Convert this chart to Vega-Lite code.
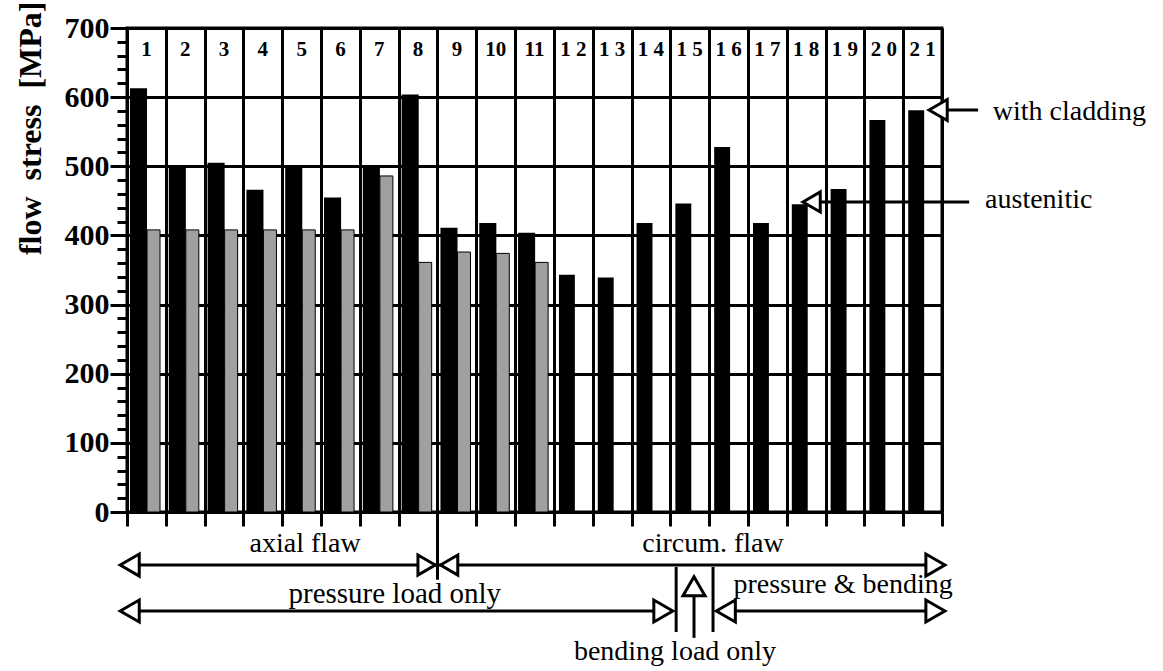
{
  "$schema": "https://vega.github.io/schema/vega-lite/v6.json",
  "width": 815,
  "height": 484,
  "autosize": {"type": "none"},
  "padding": {"left": 127, "top": 28, "right": 221, "bottom": 159},
  "background": "white",
  "config": {"view": {"stroke": "black", "strokeWidth": 3}, "font": "Liberation Serif"},
  "data": {"values": [
    {"col": 1, "label": "1", "type": "with cladding", "stress": 613},
    {"col": 2, "label": "2", "type": "with cladding", "stress": 500},
    {"col": 3, "label": "3", "type": "with cladding", "stress": 505},
    {"col": 4, "label": "4", "type": "with cladding", "stress": 466},
    {"col": 5, "label": "5", "type": "with cladding", "stress": 500},
    {"col": 6, "label": "6", "type": "with cladding", "stress": 455},
    {"col": 7, "label": "7", "type": "with cladding", "stress": 500},
    {"col": 8, "label": "8", "type": "with cladding", "stress": 604},
    {"col": 9, "label": "9", "type": "with cladding", "stress": 411},
    {"col": 10, "label": "10", "type": "with cladding", "stress": 418},
    {"col": 11, "label": "11", "type": "with cladding", "stress": 404},
    {"col": 12, "label": "1 2", "type": "with cladding", "stress": 343},
    {"col": 13, "label": "1 3", "type": "with cladding", "stress": 339},
    {"col": 14, "label": "1 4", "type": "with cladding", "stress": 418},
    {"col": 15, "label": "1 5", "type": "with cladding", "stress": 446},
    {"col": 16, "label": "1 6", "type": "with cladding", "stress": 528},
    {"col": 17, "label": "1 7", "type": "with cladding", "stress": 418},
    {"col": 18, "label": "1 8", "type": "with cladding", "stress": 445},
    {"col": 19, "label": "1 9", "type": "with cladding", "stress": 467},
    {"col": 20, "label": "2 0", "type": "with cladding", "stress": 567},
    {"col": 21, "label": "2 1", "type": "with cladding", "stress": 581},
    {"col": 1, "label": "1", "type": "austenitic", "stress": 408},
    {"col": 2, "label": "2", "type": "austenitic", "stress": 408},
    {"col": 3, "label": "3", "type": "austenitic", "stress": 408},
    {"col": 4, "label": "4", "type": "austenitic", "stress": 408},
    {"col": 5, "label": "5", "type": "austenitic", "stress": 408},
    {"col": 6, "label": "6", "type": "austenitic", "stress": 408},
    {"col": 7, "label": "7", "type": "austenitic", "stress": 486},
    {"col": 8, "label": "8", "type": "austenitic", "stress": 361},
    {"col": 9, "label": "9", "type": "austenitic", "stress": 376},
    {"col": 10, "label": "10", "type": "austenitic", "stress": 374},
    {"col": 11, "label": "11", "type": "austenitic", "stress": 361}
  ]},
  "resolve": {"scale": {"x": "independent"}, "axis": {"x": "independent", "y": "independent"}},
  "layer": [
    {
      "encoding": {
        "x": {"field": "col", "type": "ordinal", "scale": {"paddingInner": 0, "paddingOuter": 0}, "axis": null},
        "y": {
          "field": "stress", "type": "quantitative",
          "scale": {"domain": [0, 700], "nice": false},
          "axis": {
            "values": [0,20,40,60,80,100,120,140,160,180,200,220,240,260,280,300,320,340,360,380,400,420,440,460,480,500,520,540,560,580,600,620,640,660,680,700],
            "tickCount": 50,
            "labelExpr": "datum.value % 100 === 0 ? datum.label : ''",
            "tickSize": {"condition": {"test": "datum.value % 100 === 0", "value": 17}, "value": 10},
            "tickWidth": 3,
            "tickColor": "black",
            "grid": true,
            "gridColor": "black",
            "gridWidth": 3,
            "gridOpacity": {"condition": {"test": "datum.value % 100 === 0", "value": 1}, "value": 0},
            "domain": false,
            "labelFont": "Liberation Serif",
            "labelFontWeight": "bold",
            "labelFontSize": 30,
            "labelColor": "black",
            "labelPadding": 1,
            "title": "flow\u00a0 stress\u00a0 [MPa]",
            "titleFont": "Liberation Serif",
            "titleFontWeight": "bold",
            "titleFontSize": 32,
            "titleColor": "black",
            "titleAngle": -90,
            "titleX": -97,
            "titleY": -27,
            "titleAlign": "right",
            "titleBaseline": "middle"
          }
        }
      },
      "layer": [
        {"transform": [{"filter": "datum.type == 'with cladding' && datum.col <= 11"}],
         "mark": {"type": "bar", "color": "black", "width": {"band": 0.44}, "xOffset": -7.9}},
        {"transform": [{"filter": "datum.type == 'with cladding' && datum.col > 11"}],
         "mark": {"type": "bar", "color": "black", "width": {"band": 0.41}, "xOffset": -6.4}},
        {"transform": [{"filter": "datum.type == 'austenitic'"}],
         "mark": {"type": "bar", "fill": "#a0a0a0", "stroke": "black", "strokeWidth": 1, "width": {"band": 0.335}, "xOffset": 7.1}}
      ]
    },
    {
      "layer": [
        {
          "transform": [{"filter": "datum.type == 'with cladding'"}],
          "mark": {"type": "text", "font": "Liberation Serif", "fontWeight": "bold", "fontSize": 21, "dx": -19.4, "baseline": "middle", "align": "center", "color": "black"},
          "encoding": {
            "x": {"field": "col", "type": "quantitative", "scale": {"domain": [0, 21], "nice": false, "zero": false},
                  "axis": {"values": [0,1,2,3,4,5,6,7,8,9,10,11,12,13,14,15,16,17,18,19,20,21], "tickCount": 50, "labels": false, "grid": true, "gridColor": "black", "gridWidth": 3, "tickSize": 14, "tickWidth": 3, "tickColor": "black", "domain": false, "title": null}},
            "y": {"datum": 668, "type": "quantitative", "scale": {"domain": [0, 700], "nice": false}, "axis": null},
            "text": {"field": "label"}
          }
        },
        {"data": {"values": [{}]}, "mark": {"type": "rule", "color": "black", "strokeWidth": 3},
         "encoding": {"x": {"datum": 0.07, "type": "quantitative", "scale": {"domain": [0, 21]}}, "x2": {"datum": 20.83}, "y": {"datum": -76.7, "type": "quantitative", "scale": {"domain": [0, 700]}}}},
        {"data": {"values": [{}]}, "mark": {"type": "rule", "color": "black", "strokeWidth": 3},
         "encoding": {"x": {"datum": 0.07, "type": "quantitative", "scale": {"domain": [0, 21]}}, "x2": {"datum": 13.82}, "y": {"datum": -143.2, "type": "quantitative", "scale": {"domain": [0, 700]}}}},
        {"data": {"values": [{}]}, "mark": {"type": "rule", "color": "black", "strokeWidth": 3},
         "encoding": {"x": {"datum": 15.43, "type": "quantitative", "scale": {"domain": [0, 21]}}, "x2": {"datum": 20.83}, "y": {"datum": -143.2, "type": "quantitative", "scale": {"domain": [0, 700]}}}},
        {"data": {"values": [{}]}, "mark": {"type": "rule", "color": "black", "strokeWidth": 3},
         "encoding": {"x": {"datum": 8, "type": "quantitative", "scale": {"domain": [0, 21]}}, "y": {"datum": 0, "type": "quantitative", "scale": {"domain": [0, 700]}}, "y2": {"datum": -98}}},
        {"data": {"values": [{}]}, "mark": {"type": "rule", "color": "black", "strokeWidth": 3},
         "encoding": {"x": {"datum": 14.15, "type": "quantitative", "scale": {"domain": [0, 21]}}, "y": {"datum": -79.5, "type": "quantitative", "scale": {"domain": [0, 700]}}, "y2": {"datum": -173.6}}},
        {"data": {"values": [{}]}, "mark": {"type": "rule", "color": "black", "strokeWidth": 3},
         "encoding": {"x": {"datum": 15.1, "type": "quantitative", "scale": {"domain": [0, 21]}}, "y": {"datum": -79.5, "type": "quantitative", "scale": {"domain": [0, 700]}}, "y2": {"datum": -173.6}}},
        {"data": {"values": [{}]}, "mark": {"type": "rule", "color": "black", "strokeWidth": 3},
         "encoding": {"x": {"datum": 14.61, "type": "quantitative", "scale": {"domain": [0, 21]}}, "y": {"datum": -110, "type": "quantitative", "scale": {"domain": [0, 700]}}, "y2": {"datum": -182}}},
        {"data": {"values": [{}]}, "mark": {"type": "rule", "color": "black", "strokeWidth": 3},
         "encoding": {"x": {"datum": 20.94, "type": "quantitative", "scale": {"domain": [0, 21]}}, "x2": {"datum": 21.93}, "y": {"datum": 581.4, "type": "quantitative", "scale": {"domain": [0, 700]}}}},
        {"data": {"values": [{}]}, "mark": {"type": "rule", "color": "black", "strokeWidth": 3},
         "encoding": {"x": {"datum": 17.64, "type": "quantitative", "scale": {"domain": [0, 21]}}, "x2": {"datum": 21.7}, "y": {"datum": 448.4, "type": "quantitative", "scale": {"domain": [0, 700]}}}},
        {"data": {"values": [{}]}, "mark": {"type": "point", "shape": "triangle-left", "size": 484, "filled": true, "fill": "white", "stroke": "black", "strokeWidth": 3, "opacity": 1},
         "encoding": {"x": {"datum": 0.07, "type": "quantitative", "scale": {"domain": [0, 21]}}, "y": {"datum": -76.7, "type": "quantitative", "scale": {"domain": [0, 700]}}}},
        {"data": {"values": [{}]}, "mark": {"type": "point", "shape": "triangle-left", "size": 484, "filled": true, "fill": "white", "stroke": "black", "strokeWidth": 3, "opacity": 1},
         "encoding": {"x": {"datum": 0.07, "type": "quantitative", "scale": {"domain": [0, 21]}}, "y": {"datum": -143.2, "type": "quantitative", "scale": {"domain": [0, 700]}}}},
        {"data": {"values": [{}]}, "mark": {"type": "point", "shape": "triangle-right", "size": 400, "filled": true, "fill": "white", "stroke": "black", "strokeWidth": 3, "opacity": 1},
         "encoding": {"x": {"datum": 7.72, "type": "quantitative", "scale": {"domain": [0, 21]}}, "y": {"datum": -76.7, "type": "quantitative", "scale": {"domain": [0, 700]}}}},
        {"data": {"values": [{}]}, "mark": {"type": "point", "shape": "triangle-left", "size": 400, "filled": true, "fill": "white", "stroke": "black", "strokeWidth": 3, "opacity": 1},
         "encoding": {"x": {"datum": 8.3, "type": "quantitative", "scale": {"domain": [0, 21]}}, "y": {"datum": -76.7, "type": "quantitative", "scale": {"domain": [0, 700]}}}},
        {"data": {"values": [{}]}, "mark": {"type": "point", "shape": "triangle-right", "size": 484, "filled": true, "fill": "white", "stroke": "black", "strokeWidth": 3, "opacity": 1},
         "encoding": {"x": {"datum": 20.83, "type": "quantitative", "scale": {"domain": [0, 21]}}, "y": {"datum": -76.7, "type": "quantitative", "scale": {"domain": [0, 700]}}}},
        {"data": {"values": [{}]}, "mark": {"type": "point", "shape": "triangle-right", "size": 484, "filled": true, "fill": "white", "stroke": "black", "strokeWidth": 3, "opacity": 1},
         "encoding": {"x": {"datum": 13.82, "type": "quantitative", "scale": {"domain": [0, 21]}}, "y": {"datum": -143.2, "type": "quantitative", "scale": {"domain": [0, 700]}}}},
        {"data": {"values": [{}]}, "mark": {"type": "point", "shape": "triangle-left", "size": 484, "filled": true, "fill": "white", "stroke": "black", "strokeWidth": 3, "opacity": 1},
         "encoding": {"x": {"datum": 15.43, "type": "quantitative", "scale": {"domain": [0, 21]}}, "y": {"datum": -143.2, "type": "quantitative", "scale": {"domain": [0, 700]}}}},
        {"data": {"values": [{}]}, "mark": {"type": "point", "shape": "triangle-right", "size": 484, "filled": true, "fill": "white", "stroke": "black", "strokeWidth": 3, "opacity": 1},
         "encoding": {"x": {"datum": 20.83, "type": "quantitative", "scale": {"domain": [0, 21]}}, "y": {"datum": -143.2, "type": "quantitative", "scale": {"domain": [0, 700]}}}},
        {"data": {"values": [{}]}, "mark": {"type": "point", "shape": "triangle-up", "size": 484, "filled": true, "fill": "white", "stroke": "black", "strokeWidth": 3, "opacity": 1},
         "encoding": {"x": {"datum": 14.61, "type": "quantitative", "scale": {"domain": [0, 21]}}, "y": {"datum": -107.5, "type": "quantitative", "scale": {"domain": [0, 700]}}}},
        {"data": {"values": [{}]}, "mark": {"type": "point", "shape": "triangle-left", "size": 441, "filled": true, "fill": "white", "stroke": "black", "strokeWidth": 3, "opacity": 1},
         "encoding": {"x": {"datum": 20.9, "type": "quantitative", "scale": {"domain": [0, 21]}}, "y": {"datum": 581.4, "type": "quantitative", "scale": {"domain": [0, 700]}}}},
        {"data": {"values": [{}]}, "mark": {"type": "point", "shape": "triangle-left", "size": 400, "filled": true, "fill": "white", "stroke": "black", "strokeWidth": 3, "opacity": 1},
         "encoding": {"x": {"datum": 17.64, "type": "quantitative", "scale": {"domain": [0, 21]}}, "y": {"datum": 448.4, "type": "quantitative", "scale": {"domain": [0, 700]}}}},
        {"data": {"values": [{}]}, "mark": {"type": "text", "font": "Liberation Serif", "fontSize": 28, "align": "center", "baseline": "alphabetic", "color": "black", "text": "axial flaw"},
         "encoding": {"x": {"datum": 4.59, "type": "quantitative", "scale": {"domain": [0, 21]}}, "y": {"datum": -57.9, "type": "quantitative", "scale": {"domain": [0, 700]}}}},
        {"data": {"values": [{}]}, "mark": {"type": "text", "font": "Liberation Serif", "fontSize": 28, "align": "center", "baseline": "alphabetic", "color": "black", "text": "circum. flaw"},
         "encoding": {"x": {"datum": 15.1, "type": "quantitative", "scale": {"domain": [0, 21]}}, "y": {"datum": -57.9, "type": "quantitative", "scale": {"domain": [0, 700]}}}},
        {"data": {"values": [{}]}, "mark": {"type": "text", "font": "Liberation Serif", "fontSize": 29, "align": "center", "baseline": "alphabetic", "color": "black", "text": "pressure load only"},
         "encoding": {"x": {"datum": 6.9, "type": "quantitative", "scale": {"domain": [0, 21]}}, "y": {"datum": -131.6, "type": "quantitative", "scale": {"domain": [0, 700]}}}},
        {"data": {"values": [{}]}, "mark": {"type": "text", "font": "Liberation Serif", "fontSize": 28, "align": "center", "baseline": "alphabetic", "color": "black", "text": "pressure & bending"},
         "encoding": {"x": {"datum": 18.45, "type": "quantitative", "scale": {"domain": [0, 21]}}, "y": {"datum": -117, "type": "quantitative", "scale": {"domain": [0, 700]}}}},
        {"data": {"values": [{}]}, "mark": {"type": "text", "font": "Liberation Serif", "fontSize": 28, "align": "center", "baseline": "alphabetic", "color": "black", "text": "bending load only"},
         "encoding": {"x": {"datum": 14.12, "type": "quantitative", "scale": {"domain": [0, 21]}}, "y": {"datum": -214, "type": "quantitative", "scale": {"domain": [0, 700]}}}},
        {"data": {"values": [{}]}, "mark": {"type": "text", "font": "Liberation Serif", "fontSize": 28, "align": "left", "baseline": "alphabetic", "color": "black", "text": "with cladding"},
         "encoding": {"x": {"datum": 22.31, "type": "quantitative", "scale": {"domain": [0, 21]}}, "y": {"datum": 567, "type": "quantitative", "scale": {"domain": [0, 700]}}}},
        {"data": {"values": [{}]}, "mark": {"type": "text", "font": "Liberation Serif", "fontSize": 28, "align": "left", "baseline": "alphabetic", "color": "black", "text": "austenitic"},
         "encoding": {"x": {"datum": 22.11, "type": "quantitative", "scale": {"domain": [0, 21]}}, "y": {"datum": 439.7, "type": "quantitative", "scale": {"domain": [0, 700]}}}}
      ]
    }
  ]
}
